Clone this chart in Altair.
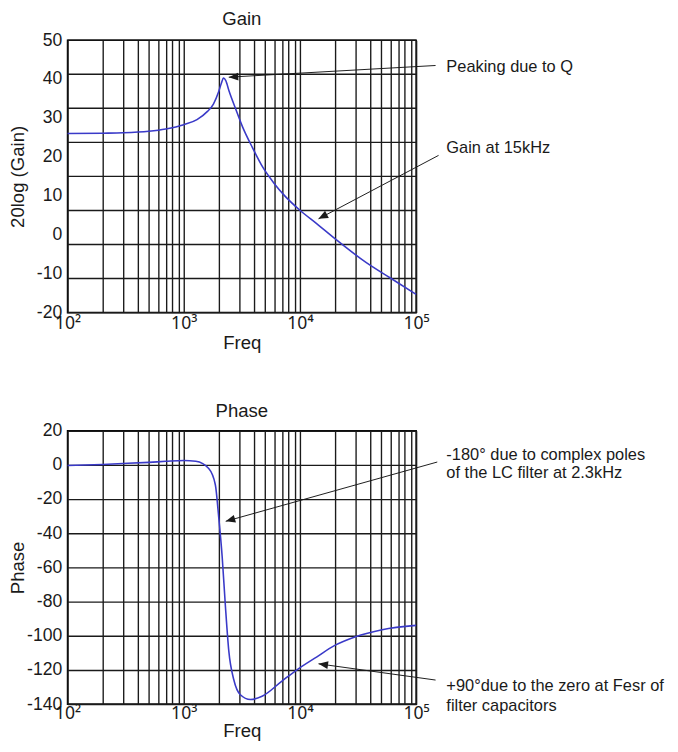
import math
import altair as alt
import pandas as pd

FONT = "Liberation Sans"
INK = "#1a1a1a"
CURVE = "#3a3ac8"

# ---- data ----
freq_gain = [100, 200, 300, 500, 700, 1000, 1300, 1600, 1800, 2000, 2100, 2200,
             2300, 2450, 2800, 3200, 3900, 4800, 6000, 7400, 10000, 14000, 20000,
             37000, 60000, 100000]
gain_db = [26.0, 26.1, 26.2, 26.6, 27.2, 28.3, 29.6, 31.7, 33.6, 36.8, 38.8, 40.3,
           39.6, 37.0, 32.3, 27.8, 22.4, 17.3, 13.2, 10.0, 6.3, 2.8, -1.0,
           -7.1, -11.1, -15.3]

freq_phase = [100, 200, 300, 500, 700, 1000, 1270, 1640, 1870, 2000, 2140, 2280,
              2440, 2700, 3070, 3750, 4720, 7000, 9700, 14000, 19600, 29700, 51000,
              100000]
phase_deg = [-0.3, 0.3, 0.8, 1.5, 2.1, 2.6, 2.1, -2.1, -11.6, -30.7, -53.5, -82.1,
             -108.7, -125.9, -134.5, -137.3, -135.4, -126.5, -119.3, -112.3, -105.9,
             -100.7, -96.4, -93.9]

# axis ticks / grid
decade_values = [100, 1000, 10000, 100000]
decade_labels = ["10²", "10³", "10⁴", "10⁵"]
freq_grid = [m * d for d in [100, 1000, 10000] for m in range(1, 10)] + [100000]
gain_ticks = [-20, -10, 0, 10, 20, 30, 40, 50]
gain_grid = [-20, -11.25, -2.5, 6.25, 15, 23.75, 32.5, 41.25, 50]
phase_ticks = [-140, -120, -100, -80, -60, -40, -20, 0, 20]

# annotations
gain_text = ["Peaking due to Q", "Gain at 15kHz"]
gain_text_f = [182000, 182000]
gain_text_v = [43.2, 22.2]
gain_tip_f = [2440, 14450]
gain_tip_v = [40.5, 4.1]
gain_tail_f = [147000, 156000]
gain_tail_v = [43.5, 20.4]

phase_text = ["-180° due to complex poles", "of the LC filter at 2.3kHz",
              "+90°due to the zero at Fesr of", "filter capacitors"]
phase_text_f = [182000, 182000, 182000, 182000]
phase_text_v = [5.5, -5.0, -129.7, -141.1]
phase_tip_f = [2297, 14450]
phase_tip_v = [-33.0, -116.4]
phase_tail_f = [152000, 147000]
phase_tail_v = [1.7, -125.9]

W = 357
H_GAIN = 279
H_PHASE = 280
GAIN_DOM = [-20, 50]
PHASE_DOM = [-140, 20]

ARROW = "M0,0 L-0.42,1 L0.42,1 Z"


def arrow_angles(tip_f, tip_v, tail_f, tail_v, dom, h):
    out = []
    for tf, tv, sf, sv in zip(tip_f, tip_v, tail_f, tail_v):
        x1 = W * (math.log10(sf) - 2) / 3
        x2 = W * (math.log10(tf) - 2) / 3
        y1 = h * (dom[1] - sv) / (dom[1] - dom[0])
        y2 = h * (dom[1] - tv) / (dom[1] - dom[0])
        out.append(math.degrees(math.atan2(x2 - x1, -(y2 - y1))) % 360)
    return out


label_expr = " : ".join(
    f"datum.value == {v} ? '{l}'" for v, l in zip(decade_values, decade_labels)
) + " : ''"

xscale = alt.Scale(type="log", domain=[100, 100000], nice=False)


def x_axis(title_y, label_pad):
    return alt.Axis(values=freq_grid, labelExpr=label_expr, grid=True,
                    gridColor=INK, gridWidth=1.4, gridOpacity=1, ticks=False,
                    domain=False, labelPadding=label_pad, labelFontSize=18,
                    labelFont="Noto Sans",
                    labelOverlap=False, labelFlush=False, labelColor=INK,
                    title="Freq", titleFontSize=19, titleFontWeight="normal",
                    titleColor=INK, titleY=title_y, titleBaseline="alphabetic")


def y_axis(values, grid, title):
    return alt.Axis(values=values, tickCount=len(values), grid=grid,
                    gridColor=INK, gridWidth=1.4,
                    gridOpacity=1, ticks=False, domain=False,
                    labelExpr="datum.value + ''", labelOverlap=False,
                    labelFlush=False, labelPadding=6, labelFontSize=18,
                    labelColor=INK, title=title, titleFontSize=19,
                    titleFontWeight="normal", titleColor=INK, titleX=-51,
                    titleBaseline="middle")


def panel(curve_df, yscale, yax, grid_df, notes_df, arrows_df, h, title,
          title_offset, title_y, label_pad):
    xax = x_axis(title_y, label_pad)
    layers = []
    if grid_df is not None:
        layers.append(alt.Chart(grid_df).mark_rule(color=INK, strokeWidth=1.4).encode(
            y=alt.Y("v:Q", scale=yscale, axis=yax)))
    layers.append(alt.Chart(curve_df).mark_line(
        color=CURVE, strokeWidth=1.6, interpolate="monotone"
    ).encode(
        x=alt.X("f:Q", scale=xscale, axis=xax),
        y=alt.Y("v:Q", scale=yscale, axis=yax),
    ))
    layers.append(alt.Chart(arrows_df).mark_rule(color=INK, strokeWidth=1).encode(
        x=alt.X("f:Q", scale=xscale, axis=xax),
        y=alt.Y("v:Q", scale=yscale, axis=yax),
        x2="f2:Q", y2="v2:Q"))
    layers.append(alt.Chart(arrows_df).mark_point(
        shape=ARROW, filled=True, size=380, color=INK, opacity=1
    ).encode(
        x=alt.X("f:Q", scale=xscale, axis=xax),
        y=alt.Y("v:Q", scale=yscale, axis=yax),
        angle=alt.Angle("ang:Q", scale=None)))
    layers.append(alt.Chart(notes_df).mark_text(
        align="left", baseline="middle", fontSize=16.8, font=FONT, color=INK
    ).encode(
        x=alt.X("f:Q", scale=xscale, axis=xax),
        y=alt.Y("v:Q", scale=yscale, axis=yax),
        text="t:N"))
    return alt.layer(*layers).properties(
        width=W, height=h,
        title=alt.TitleParams(title, fontSize=19, fontWeight="normal", font=FONT,
                              color=INK, anchor="middle", frame="group",
                              offset=title_offset))


gain_df = pd.DataFrame({"f": freq_gain, "v": gain_db})
phase_df = pd.DataFrame({"f": freq_phase, "v": phase_deg})

gain_arrows = pd.DataFrame({
    "f": gain_tip_f, "v": gain_tip_v, "f2": gain_tail_f, "v2": gain_tail_v,
    "ang": arrow_angles(gain_tip_f, gain_tip_v, gain_tail_f, gain_tail_v, GAIN_DOM, H_GAIN),
})
phase_arrows = pd.DataFrame({
    "f": phase_tip_f, "v": phase_tip_v, "f2": phase_tail_f, "v2": phase_tail_v,
    "ang": arrow_angles(phase_tip_f, phase_tip_v, phase_tail_f, phase_tail_v, PHASE_DOM, H_PHASE),
})
gain_notes = pd.DataFrame({"t": gain_text, "f": gain_text_f, "v": gain_text_v})
phase_notes = pd.DataFrame({"t": phase_text, "f": phase_text_f, "v": phase_text_v})

gain_chart = panel(gain_df, alt.Scale(domain=GAIN_DOM, nice=False, zero=False),
                   y_axis(gain_ticks, False, "20log (Gain)"),
                   pd.DataFrame({"v": gain_grid}), gain_notes, gain_arrows,
                   H_GAIN, "Gain", 3, 37, 2)
phase_chart = panel(phase_df, alt.Scale(domain=PHASE_DOM, nice=False, zero=False),
                    y_axis(phase_ticks, True, "Phase"), None, phase_notes,
                    phase_arrows, H_PHASE, "Phase", 1, 33, 1)

chart = alt.vconcat(gain_chart, phase_chart, spacing=49).properties(
    padding={"left": 0, "top": -8, "right": 5, "bottom": 0}
).configure(
    font=FONT
).configure_axis(
    labelOverlap=False
).configure_view(
    stroke="black", strokeWidth=1.6
)

chart.save("out.html", embed_options={"renderer": "svg", "actions": False})
